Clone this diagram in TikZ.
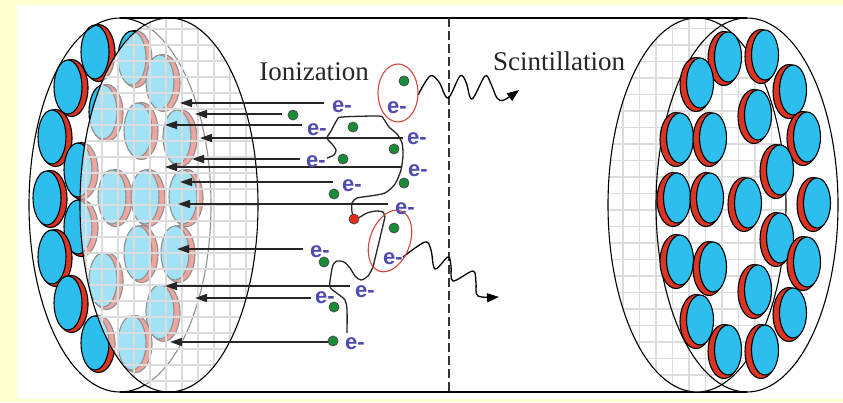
\documentclass[tikz,border=0pt]{standalone}
\usepackage{fontspec}
\setmainfont{Liberation Serif}
\newfontfamily\esans{Liberation Sans}
\usetikzlibrary{arrows.meta}

\definecolor{bgyellow}{RGB}{255,255,208}
\definecolor{pmtblue}{RGB}{45,190,238}
\definecolor{pmtred}{RGB}{218,52,36}
\definecolor{eblue}{RGB}{78,76,176}
\definecolor{dotgreen}{RGB}{22,140,55}
\definecolor{dotred}{RGB}{232,40,25}
\definecolor{gridgray}{RGB}{220,220,220}
\definecolor{ringred}{RGB}{212,72,58}

% photomultiplier tube seen end-on: red rim behind a blue window
\newcommand\pmtleft[2]{%
  \draw[pmtline,fill=pmtred] (#1+3.5,#2+1) ellipse[x radius=16.5,y radius=28.5];
  \draw[pmtline,fill=pmtblue] (#1,#2) ellipse[x radius=14,y radius=27];}
\newcommand\pmtright[2]{%
  \draw[pmtline,fill=pmtred] (#1-4,#2+1.5) ellipse[x radius=16,y radius=27];
  \draw[pmtline,fill=pmtblue] (#1,#2) ellipse[x radius=13.5,y radius=25];}
\newcommand\edot[3][dotgreen]{%
  \draw[line width=0.8,draw=black!70,fill=#1] (#2,#3) circle[radius=5];}

\begin{document}
\begin{tikzpicture}[x=1pt,y=-1pt,
  pmtline/.style={draw=black,line width=1.1},
  rim/.style={draw=black,line width=1.1},
  gridline/.style={draw=gridgray,line width=1.2},
  hitarrow/.style={draw=black!85,line width=1.4,-{Triangle[length=12pt,width=8pt]}},
  track/.style={draw=black!85,line width=1.3,line join=round},
  photon/.style={draw=black,line width=1.3,-{Triangle[length=12pt,width=9pt]}},
  ering/.style={draw=ringred,line width=1.1},
  elabel/.style={text=eblue,font=\esans\bfseries\fontsize{22}{22}\selectfont,inner sep=0pt},
  caption/.style={font=\fontsize{27}{27}\selectfont,text=black!85,inner sep=0pt}]

\useasboundingbox (0,0) rectangle (843,402);
\fill[bgyellow] (0,0) rectangle (843,402);
\fill[white] (17,5) rectangle (843,399);

% ---------- left end cap ----------
\foreach \px/\py in {95/52,68/87,52/137,78/170,47/198,78/227,52/257,68/303,95/343,
  132/58,160/82,103/112,138/130,177/137,112/197,145/197,183/197,138/253,175/253,
  103/280,160/312,132/343}
  {\pmtleft{\px}{\py}}
\draw[rim] (120,205) ellipse[x radius=91,y radius=187];
\fill[white,opacity=0.56] (169,205) ellipse[x radius=89,y radius=187];
\begin{scope}
  \clip (169,205) ellipse[x radius=89,y radius=187];
  \foreach \gx in {86,102,...,262} \draw[gridline] (\gx,10) -- (\gx,400);
  \foreach \gy in {13,29,...,397} \draw[gridline] (70,\gy) -- (262,\gy);
\end{scope}
\draw[rim] (169,205) ellipse[x radius=89,y radius=187];

% ---------- cylinder body ----------
\draw[rim] (120,18) -- (747,18);
\draw[rim] (120,392) -- (747,392);
\draw[black!80,line width=1.5,dash pattern=on 9pt off 4pt] (449,18) -- (449,392);

% ---------- right end cap ----------
\begin{scope}
  \clip (697,205) ellipse[x radius=89,y radius=187];
  \foreach \gx in {606.5,623,...,790} \draw[gridline] (\gx,10) -- (\gx,400);
  \foreach \gy in {12,28.5,...,400} \draw[gridline] (600,\gy) -- (790,\gy);
\end{scope}
\draw[rim] (697,205) ellipse[x radius=89,y radius=187];
\draw[rim] (747,205) ellipse[x radius=91,y radius=187];
\foreach \px/\py in {728/57,765/55,700/83,793/90,758/115,680/138,713/138,807/137,
  780/170,677/198,710/198,748/203,817/203,780/238,680/260,713/267,807/262,
  758/290,700/320,793/313,728/350,765/350}
  {\pmtright{\px}{\py}}

% ---------- drift lines of the electrons ----------
\draw[hitarrow] (324,103) -- (180,103);
\draw[hitarrow] (282,114) -- (195,114);
\draw[hitarrow] (302,125) -- (165,125);
\draw[hitarrow] (403,138) -- (200,138);
\draw[hitarrow] (300,159) -- (192,159);
\draw[hitarrow] (402,167) -- (165,167);
\draw[hitarrow] (333,182) -- (180,182);
\draw[hitarrow] (388,204) -- (178,204);
\draw[hitarrow] (303,249) -- (177,249);
\draw[hitarrow] (350,286) -- (165,286);
\draw[hitarrow] (311,298) -- (195,298);
\draw[hitarrow] (333,342) -- (170,342);

% ---------- particle tracks ----------
\draw[track] plot[smooth,tension=0.45] coordinates {(354,220) (352,212) (352,203)
  (357,198) (370,196) (385,193) (395,184) (401,170) (403,155) (402,143) (397,134)
  (389,127) (383,118) (378,116) (342,117) (337,120) (331,131) (327,138) (332,144)
  (336,150) (334,155) (327,158)};
\draw[track] plot[smooth,tension=0.45] coordinates {(354,220) (360,217) (367,213)
  (376,211) (383,212) (385,217)};
\draw[track] (385,217) -- (373,267);
\draw[track] plot[smooth,tension=0.5] coordinates {(373,267) (368,276) (361,280)
  (355,276) (350,268) (344,262) (337,261) (333,265) (331,275) (330,287) (338,294)
  (345,300) (347,310) (347,333)};

% ---------- scintillation photons ----------
\draw[photon] plot[smooth,tension=0.55] coordinates {(418,95) (430,76) (439,82)
  (448,98) (460,76) (466,82) (472,99) (485,76) (491,84) (497,98) (504,100) (519,90)};
\draw[photon] plot[smooth,tension=0.55] coordinates {(403,257) (425,242) (431,250)
  (435,269) (448,257) (451,266) (453,281) (473,271) (476,283) (478,296) (499,297)};

% ---------- interaction sites ----------
\draw[ering] (398,93) ellipse[x radius=20,y radius=29];
\draw[ering] (390,241) ellipse[x radius=20,y radius=32,rotate=-20];

\foreach \dx/\dy in {404/81,293/115,353/127,394/149,343/159,404/183,334/194,
  394/228,324/262,334/307,333/341}
  {\edot{\dx}{\dy}}
\edot[dotred]{354}{219}

\node[elabel] (e1) at (342,107) {e-};
\node[elabel] (e2) at (397,108) {e-};
\node[elabel] (e3) at (317,130) {e-};
\node[elabel] (e4) at (417,139) {e-};
\node[elabel] (e5) at (316,162) {e-};
\node[elabel] (e6) at (418,171) {e-};
\node[elabel] (e7) at (352,186) {e-};
\node[elabel] (e8) at (405,209) {e-};
\node[elabel] (e9) at (320,252) {e-};
\node[elabel] (e10) at (393,259) {e-};
\node[elabel] (e11) at (365,292) {e-};
\node[elabel] (e12) at (325,298) {e-};
\node[elabel] (e13) at (355,344) {e-};

\node[caption] (ion) at (314,72) {Ionization};
\node[caption] (scint) at (559,61) {Scintillation};
\end{tikzpicture}
\end{document}
